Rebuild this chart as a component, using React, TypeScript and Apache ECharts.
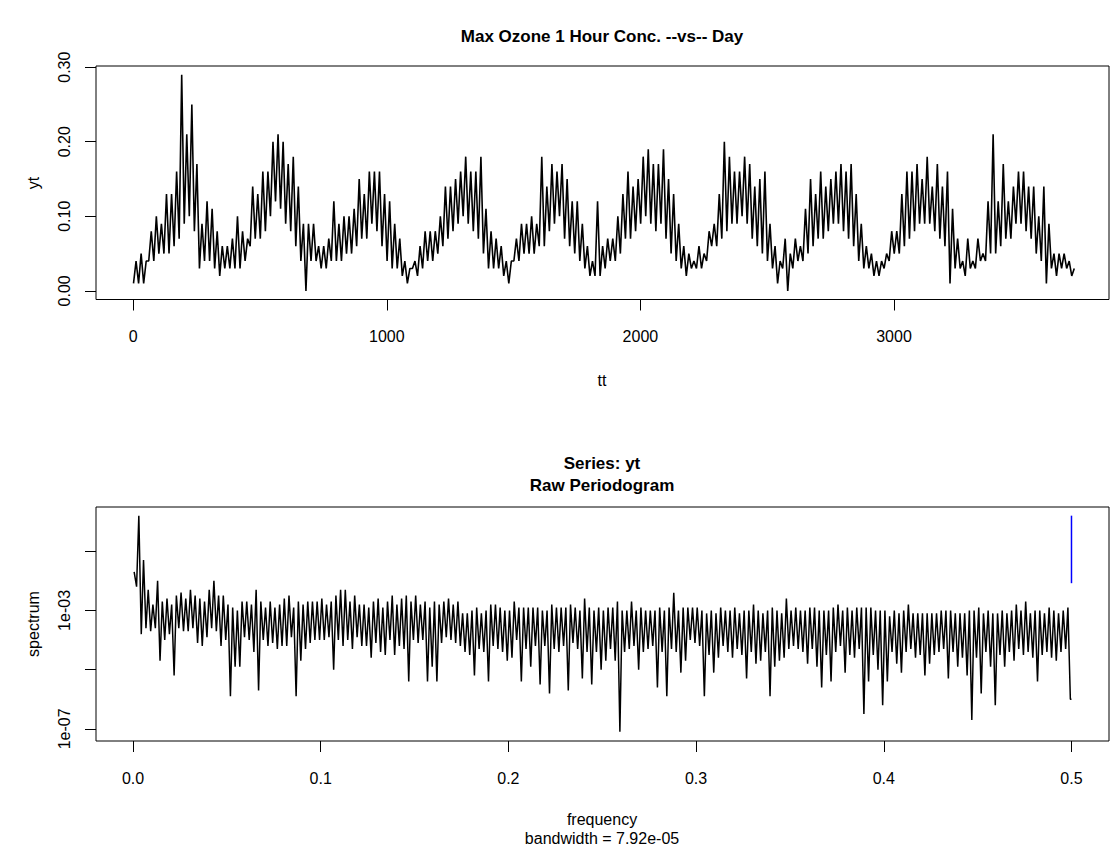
import React, { useEffect, useRef } from "react";
import * as echarts from "echarts";

// ---------- Top panel: daily max ozone (envelope read per 20-day bin) ----------
const ozoneBinDays = 20;
const ozoneFirstDay = 1;
const ozoneLow = [
  0.01, 0.01, 0.01, 0.04, 0.04, 0.05, 0.05, 0.05, 0.06, 0.07,
  0.09, 0.10, 0.08, 0.03, 0.04, 0.04, 0.03, 0.02, 0.03, 0.03,
  0.03, 0.03, 0.04, 0.06, 0.07, 0.07, 0.08, 0.10, 0.12, 0.11,
  0.09, 0.08, 0.06, 0.04, 0.00, 0.04, 0.04, 0.03, 0.03, 0.04,
  0.04, 0.04, 0.05, 0.05, 0.06, 0.07, 0.07, 0.09, 0.08, 0.06,
  0.04, 0.03, 0.03, 0.02, 0.01, 0.03, 0.02, 0.03, 0.04, 0.04,
  0.05, 0.06, 0.07, 0.08, 0.09, 0.10, 0.09, 0.08, 0.07, 0.05,
  0.03, 0.03, 0.03, 0.02, 0.01, 0.04, 0.04, 0.05, 0.05, 0.05,
  0.06, 0.06, 0.08, 0.09, 0.10, 0.07, 0.06, 0.05, 0.04, 0.03,
  0.02, 0.02, 0.02, 0.03, 0.04, 0.04, 0.05, 0.07, 0.07, 0.08,
  0.09, 0.10, 0.09, 0.08, 0.09, 0.07, 0.05, 0.04, 0.03, 0.02,
  0.03, 0.03, 0.03, 0.04, 0.06, 0.06, 0.07, 0.08, 0.09, 0.09,
  0.10, 0.09, 0.07, 0.06, 0.05, 0.04, 0.03, 0.01, 0.03, 0.00,
  0.03, 0.04, 0.04, 0.05, 0.06, 0.07, 0.07, 0.08, 0.09, 0.09,
  0.08, 0.07, 0.06, 0.04, 0.03, 0.03, 0.02, 0.02, 0.03, 0.04,
  0.05, 0.05, 0.06, 0.07, 0.08, 0.09, 0.09, 0.09, 0.08, 0.07,
  0.06, 0.01, 0.03, 0.03, 0.02, 0.03, 0.03, 0.04, 0.04, 0.05,
  0.05, 0.06, 0.07, 0.07, 0.09, 0.09, 0.08, 0.07, 0.05, 0.04,
  0.01, 0.03, 0.02, 0.03, 0.03, 0.02,
];
const ozoneHigh = [
  0.04, 0.05, 0.04, 0.08, 0.10, 0.09, 0.13, 0.13, 0.16, 0.29,
  0.21, 0.25, 0.17, 0.09, 0.12, 0.11, 0.08, 0.06, 0.06, 0.07,
  0.10, 0.08, 0.07, 0.14, 0.13, 0.16, 0.16, 0.20, 0.21, 0.20,
  0.17, 0.18, 0.14, 0.09, 0.09, 0.09, 0.06, 0.06, 0.07, 0.12,
  0.09, 0.10, 0.10, 0.11, 0.15, 0.13, 0.16, 0.16, 0.16, 0.13,
  0.12, 0.09, 0.07, 0.04, 0.03, 0.04, 0.06, 0.08, 0.08, 0.08,
  0.10, 0.14, 0.14, 0.15, 0.16, 0.18, 0.16, 0.16, 0.18, 0.11,
  0.08, 0.07, 0.06, 0.04, 0.04, 0.07, 0.09, 0.09, 0.10, 0.09,
  0.18, 0.14, 0.17, 0.16, 0.17, 0.15, 0.12, 0.12, 0.09, 0.06,
  0.04, 0.12, 0.06, 0.07, 0.07, 0.10, 0.13, 0.16, 0.14, 0.15,
  0.18, 0.19, 0.17, 0.17, 0.19, 0.15, 0.13, 0.09, 0.06, 0.05,
  0.04, 0.06, 0.05, 0.08, 0.09, 0.13, 0.20, 0.18, 0.16, 0.16,
  0.18, 0.17, 0.14, 0.15, 0.16, 0.09, 0.06, 0.04, 0.07, 0.05,
  0.07, 0.06, 0.11, 0.15, 0.13, 0.16, 0.14, 0.15, 0.16, 0.17,
  0.16, 0.17, 0.13, 0.09, 0.06, 0.05, 0.04, 0.04, 0.05, 0.08,
  0.08, 0.13, 0.16, 0.16, 0.17, 0.15, 0.18, 0.14, 0.17, 0.14,
  0.16, 0.11, 0.07, 0.04, 0.07, 0.04, 0.07, 0.05, 0.12, 0.21,
  0.12, 0.17, 0.12, 0.14, 0.16, 0.16, 0.14, 0.14, 0.10, 0.14,
  0.09, 0.05, 0.05, 0.05, 0.04, 0.03,
];
const ozoneXTicks = [0, 1000, 2000, 3000];
const ozoneYTicks = [0.0, 0.1, 0.2, 0.3];
const ozoneDayRange = [1, 3700];
const ozoneValueRange = [0, 0.29];

// ---------- Bottom panel: raw periodogram (log10 spectrum, envelope per 0.0025 bin) ----------
const freqBin = 0.0025;
const logSpecHigh = [
  -1.7, 0.2, -1.3, -2.3, -2.8, -2.0, -2.7, -2.6, -2.8, -2.5,
  -2.4, -2.6, -2.3, -2.5, -2.6, -2.7, -2.3, -2.0, -2.5, -2.5,
  -2.8, -2.9, -3.0, -2.7, -2.7, -2.8, -2.3, -2.7, -2.9, -2.7,
  -2.9, -2.8, -2.6, -2.5, -2.9, -2.7, -2.8, -2.7, -2.7, -2.7,
  -2.6, -2.8, -2.7, -2.5, -2.3, -2.3, -2.7, -2.5, -2.8, -2.8,
  -2.9, -2.7, -2.6, -2.9, -2.7, -2.5, -2.8, -2.6, -2.5, -2.7,
  -2.5, -2.8, -2.7, -2.9, -2.7, -2.8, -2.7, -2.6, -2.8, -2.7,
  -3.1, -3.1, -3.0, -2.9, -3.1, -3.0, -2.8, -2.8, -2.9, -3.0,
  -3.0, -2.7, -2.9, -2.9, -2.9, -2.9, -2.9, -3.0, -3.0, -2.8,
  -2.9, -2.9, -2.9, -2.8, -2.9, -3.0, -2.6, -2.9, -3.0, -2.9,
  -3.0, -2.9, -2.9, -2.7, -3.0, -3.0, -2.7, -3.0, -2.9, -3.0,
  -3.0, -3.0, -2.9, -3.0, -2.9, -2.4, -3.0, -2.9, -2.9, -2.9,
  -2.9, -3.0, -3.1, -3.0, -3.1, -2.9, -3.0, -3.0, -2.9, -3.1,
  -3.0, -3.0, -2.8, -3.0, -3.1, -3.0, -2.9, -3.0, -3.1, -2.6,
  -3.0, -2.9, -3.0, -3.0, -2.9, -2.9, -3.0, -3.0, -3.0, -2.9,
  -2.8, -3.0, -2.9, -3.0, -2.9, -2.9, -2.9, -2.9, -3.0, -3.0,
  -3.0, -3.2, -3.0, -3.1, -3.0, -2.8, -3.1, -3.1, -3.1, -3.1,
  -3.1, -3.1, -3.0, -3.0, -3.0, -3.1, -3.1, -3.1, -3.0, -3.0,
  -2.9, -3.1, -3.0, -3.1, -3.1, -3.0, -3.1, -3.0, -2.8, -3.0,
  -2.7, -3.1, -3.0, -3.0, -3.1, -2.9, -3.0, -3.1, -3.0, -2.9,
];
const logSpecLow = [
  -2.2, -3.8, -3.6, -3.7, -3.6, -4.7, -4.0, -3.8, -5.2, -3.6,
  -3.7, -3.7, -3.6, -4.1, -4.2, -3.9, -3.6, -3.7, -4.2, -4.0,
  -5.9, -4.9, -4.9, -3.9, -4.0, -4.4, -5.7, -4.0, -4.2, -4.1,
  -4.3, -4.2, -4.2, -3.9, -5.9, -4.7, -4.3, -4.1, -4.0, -4.0,
  -4.0, -3.9, -5.0, -4.0, -4.2, -4.0, -4.3, -3.9, -4.2, -4.2,
  -4.6, -4.1, -4.4, -4.5, -4.0, -4.5, -4.2, -4.3, -5.4, -4.0,
  -4.1, -4.0, -5.4, -4.9, -5.4, -4.1, -3.9, -4.0, -4.1, -4.2,
  -4.4, -4.5, -5.2, -4.3, -4.4, -5.4, -4.2, -4.3, -4.4, -4.7,
  -4.6, -4.0, -5.4, -4.3, -4.9, -4.2, -5.5, -4.2, -5.8, -4.3,
  -4.4, -4.2, -5.7, -4.1, -4.3, -5.3, -4.4, -5.5, -4.4, -5.0,
  -4.7, -4.3, -4.7, -7.1, -4.4, -4.3, -4.2, -5.0, -4.4, -4.3,
  -4.2, -5.6, -4.4, -5.9, -4.3, -4.4, -5.1, -4.7, -4.0, -4.1,
  -4.2, -5.9, -4.5, -5.1, -4.6, -4.2, -4.4, -4.6, -4.3, -4.5,
  -5.3, -4.4, -4.8, -4.7, -4.4, -5.9, -4.9, -4.7, -4.6, -4.3,
  -4.2, -4.3, -4.4, -4.8, -4.3, -4.9, -5.6, -4.5, -5.4, -4.4,
  -4.2, -5.1, -4.5, -4.6, -4.3, -6.5, -5.4, -4.5, -5.0, -6.2,
  -5.4, -4.4, -4.8, -5.1, -4.4, -4.3, -4.6, -4.5, -5.2, -4.8,
  -4.5, -4.4, -4.3, -5.3, -4.4, -4.9, -4.6, -5.2, -6.7, -4.6,
  -5.8, -4.4, -4.9, -6.2, -4.5, -4.9, -4.4, -4.7, -4.3, -4.5,
  -4.4, -4.6, -5.4, -4.5, -4.4, -4.6, -4.7, -4.4, -4.3, -6.0,
];
const freqTicks = [0.0, 0.1, 0.2, 0.3, 0.4, 0.5];
const logSpecTicks = [-7, -5, -3, -1];
const logSpecLabels = [-7, -3];
const freqRange = [1 / 3700, 0.5];
const logSpecRange = [-7.116, 0.2];
// confidence bar (log10 spectrum) at the top-right
const ciFreq = 0.5;
const ciLogHigh = 0.2;
const ciLogLow = -2.08;

const FONT = "'Liberation Sans', Arial, Helvetica, sans-serif";
const TICK_FONT = 16;
const LAB_FONT = 16;
const MAIN_FONT = 17;

function padRange(r: number[]) {
  const p = (r[1] - r[0]) * 0.04;
  return [r[0] - p, r[1] + p];
}

export default function App() {
  const ref = useRef<HTMLDivElement>(null);
  useEffect(() => {
    document.body.style.margin = "0";
    if (!ref.current) return;
    const chart = echarts.init(ref.current, undefined, { renderer: "svg" });

    const ozoneData: number[][] = [];
    ozoneLow.forEach((lo, k) => {
      const t = ozoneFirstDay + k * ozoneBinDays;
      ozoneData.push([t, lo]);
      ozoneData.push([t + ozoneBinDays / 2, ozoneHigh[k]]);
    });
    const specData: number[][] = [];
    logSpecHigh.forEach((hi, k) => {
      const f = k * freqBin;
      specData.push([Math.max(freqRange[0], f + 0.0006), hi]);
      specData.push([Math.min(freqRange[1], f + 0.0019), logSpecLow[k]]);
    });
    specData.push([freqRange[1], logSpecLow[logSpecLow.length - 1]]);

    const [x1min, x1max] = padRange(ozoneDayRange);
    const [y1min, y1max] = padRange(ozoneValueRange);
    const [x2min, x2max] = padRange(freqRange);
    const [y2min, y2max] = padRange(logSpecRange);

    const tick = (vals: number[]) => ({
      show: true,
      inside: false,
      length: 11,
      customValues: vals,
      lineStyle: { color: "#000", width: 1 },
    });
    const hiddenLine = { show: false, onZero: false };
    const txt = (text: string, x: number, y: number, opts: any = {}) => ({
      type: "text",
      x,
      y,
      rotation: opts.rotation || 0,
      style: {
        text,
        fill: "#000",
        font: `${opts.bold ? "bold " : ""}${opts.size || LAB_FONT}px ${FONT}`,
        align: "center",
        verticalAlign: "middle",
      },
    });

    chart.setOption({
      animation: false,
      textStyle: { fontFamily: FONT },
      grid: [
        { left: 96, top: 66, width: 1013, height: 233.5, show: true, borderColor: "#000", borderWidth: 1 },
        { left: 96, top: 507, width: 1013, height: 234, show: true, borderColor: "#000", borderWidth: 1 },
      ],
      xAxis: [
        {
          gridIndex: 0, type: "value", min: x1min, max: x1max,
          axisLine: hiddenLine, splitLine: { show: false },
          axisTick: tick(ozoneXTicks),
          axisLabel: { customValues: ozoneXTicks, color: "#000", fontSize: TICK_FONT, margin: 29, formatter: (v: number) => String(v) },
        },
        {
          gridIndex: 1, type: "value", min: x2min, max: x2max,
          axisLine: hiddenLine, splitLine: { show: false },
          axisTick: tick(freqTicks),
          axisLabel: { customValues: freqTicks, color: "#000", fontSize: TICK_FONT, margin: 29, formatter: (v: number) => v.toFixed(1) },
        },
      ],
      yAxis: [
        {
          gridIndex: 0, type: "value", min: y1min, max: y1max,
          axisLine: hiddenLine, splitLine: { show: false },
          axisTick: tick(ozoneYTicks),
          axisLabel: { customValues: ozoneYTicks, rotate: 90, color: "#000", fontSize: TICK_FONT, margin: 24, formatter: (v: number) => v.toFixed(2) },
        },
        {
          gridIndex: 1, type: "value", min: y2min, max: y2max,
          axisLine: hiddenLine, splitLine: { show: false },
          axisTick: tick(logSpecTicks),
          axisLabel: {
            customValues: logSpecLabels, rotate: 90, color: "#000", fontSize: TICK_FONT, margin: 24,
            formatter: (v: number) => "1e" + (v < 0 ? "-" : "+") + String(Math.abs(Math.round(v))).padStart(2, "0"),
          },
        },
      ],
      series: [
        {
          type: "line", xAxisIndex: 0, yAxisIndex: 0, data: ozoneData, showSymbol: false, symbol: "none",
          color: "#000", lineStyle: { color: "#000", width: 1.6 }, silent: true, clip: true,
        },
        {
          type: "line", xAxisIndex: 1, yAxisIndex: 1, data: specData, showSymbol: false, symbol: "none",
          color: "#000", lineStyle: { color: "#000", width: 1.5 }, silent: true, clip: true,
        },
        {
          type: "line", xAxisIndex: 1, yAxisIndex: 1, data: [[ciFreq, ciLogHigh], [ciFreq, ciLogLow]],
          showSymbol: false, symbol: "none", color: "#0000ff", z: 5,
          lineStyle: { color: "#0000ff", width: 1.5 }, silent: true, clip: false,
        },
      ],
      graphic: [
        txt("Max Ozone 1 Hour Conc. --vs-- Day", 602, 36, { bold: true, size: MAIN_FONT }),
        txt("yt", 33, 183, { rotation: Math.PI / 2 }),
        txt("tt", 602, 380),
        txt("Series: yt", 602, 463, { bold: true, size: MAIN_FONT }),
        txt("Raw Periodogram", 602, 485, { bold: true, size: MAIN_FONT }),
        txt("spectrum", 33, 624, { rotation: Math.PI / 2 }),
        txt("frequency", 602, 819),
        txt("bandwidth = 7.92e-05", 602, 838),
      ],
    });
    return () => chart.dispose();
  }, []);
  return <div ref={ref} style={{ width: 1110, height: 858 }} />;
}
